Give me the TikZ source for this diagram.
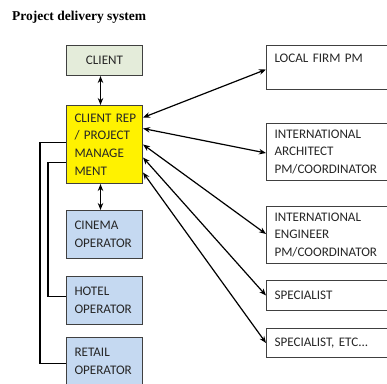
\documentclass[tikz,border=0pt]{standalone}
\usepackage{fontspec}
\setmainfont{Carlito}
\newfontfamily\titlefont{Liberation Serif}
\frenchspacing
\usetikzlibrary{arrows.meta}
\usetikzlibrary{positioning}

\begin{document}
\begin{tikzpicture}[x=1pt, y=-1pt, every node/.style={font=\fontsize{13.1}{17.6}\selectfont, text=black!85}]
% Delivery structure of the project

% Colors
\definecolor{lgreen}{RGB}{228,236,218}
\definecolor{lblue}{RGB}{197,217,241}
\definecolor{dgrey}{RGB}{64,64,64}

\tikzset{
  box/.style={draw=dgrey, line width=1pt, anchor=north west, inner xsep=8pt, inner ysep=2pt, minimum width=76pt, text width=60pt, align=left},
  rbox/.style={box, minimum width=140pt, text width=124pt},
  biarrow/.style={{Stealth[length=7pt,width=5.5pt]}-{Stealth[length=7pt,width=5.5pt]}, line width=1.2pt},
  elbow/.style={line width=1.2pt}
}

% Frame
\useasboundingbox (0,0) rectangle (387,383);
\clip (0,0) rectangle (387,383);

% Title
\node[anchor=base west, inner sep=0pt, font=\titlefont\bfseries\fontsize{13.5}{16}\selectfont, text=black] (title) at (12,20) {Project delivery system};

% Left column
\node[box, fill=lgreen, minimum height=30pt, align=center] (client) at (66,45) {CLIENT};
\node[box, fill=yellow, minimum height=78pt] (rep) at (66,105) {\mbox{CLIENT REP}\\/ PROJECT\\MANAGE\\MENT};
\node[box, fill=lblue, minimum height=48pt] (cinema) at (66,210) {CINEMA\\OPERATOR};
\node[box, fill=lblue, minimum height=48pt] (hotel) at (66,276) {HOTEL\\OPERATOR};
\node[box, fill=lblue, minimum height=48pt] (retail) at (66,337) {RETAIL\\OPERATOR};

% Right column
\node[rbox, minimum height=44pt] (local) at (266,45) {LOCAL FIRM PM\\~};
\node[rbox, minimum height=57pt] (arch) at (266,123) {INTERNATIONAL\\ARCHITECT\\PM/COORDINATOR};
\node[rbox, minimum height=57pt] (eng) at (266,206) {INTERNATIONAL\\ENGINEER\\PM/COORDINATOR};
\node[rbox, minimum height=30pt] (spec) at (266,280) {SPECIALIST};
\node[rbox, minimum height=29pt] (etc) at (266,328) {SPECIALIST, ETC...};

% Connections
\draw[biarrow] ([xshift=-4pt]client.south) -- ([xshift=-4pt]rep.north);
\draw[biarrow] ([xshift=-4pt]rep.south) -- ([xshift=-4pt]cinema.north);

\draw[biarrow] ([yshift=27pt]rep.east) -- ([yshift=-2pt]local.west);
\draw[biarrow] ([yshift=16pt]rep.east) -- ([yshift=-1pt]arch.west);
\draw[biarrow] (rep.east) -- ([yshift=1pt]eng.west);
\draw[biarrow] ([yshift=-13pt]rep.east) -- (spec.west);
\draw[biarrow] ([yshift=-28pt]rep.east) -- (etc.west);

\draw[elbow] ([yshift=2pt]rep.west) -- ++(-26,0) |- ([yshift=-2pt]retail.west);
\draw[elbow] ([yshift=-18pt]rep.west) -- ++(-18,0) |- ([yshift=4pt]hotel.west);
\end{tikzpicture}
\end{document}
